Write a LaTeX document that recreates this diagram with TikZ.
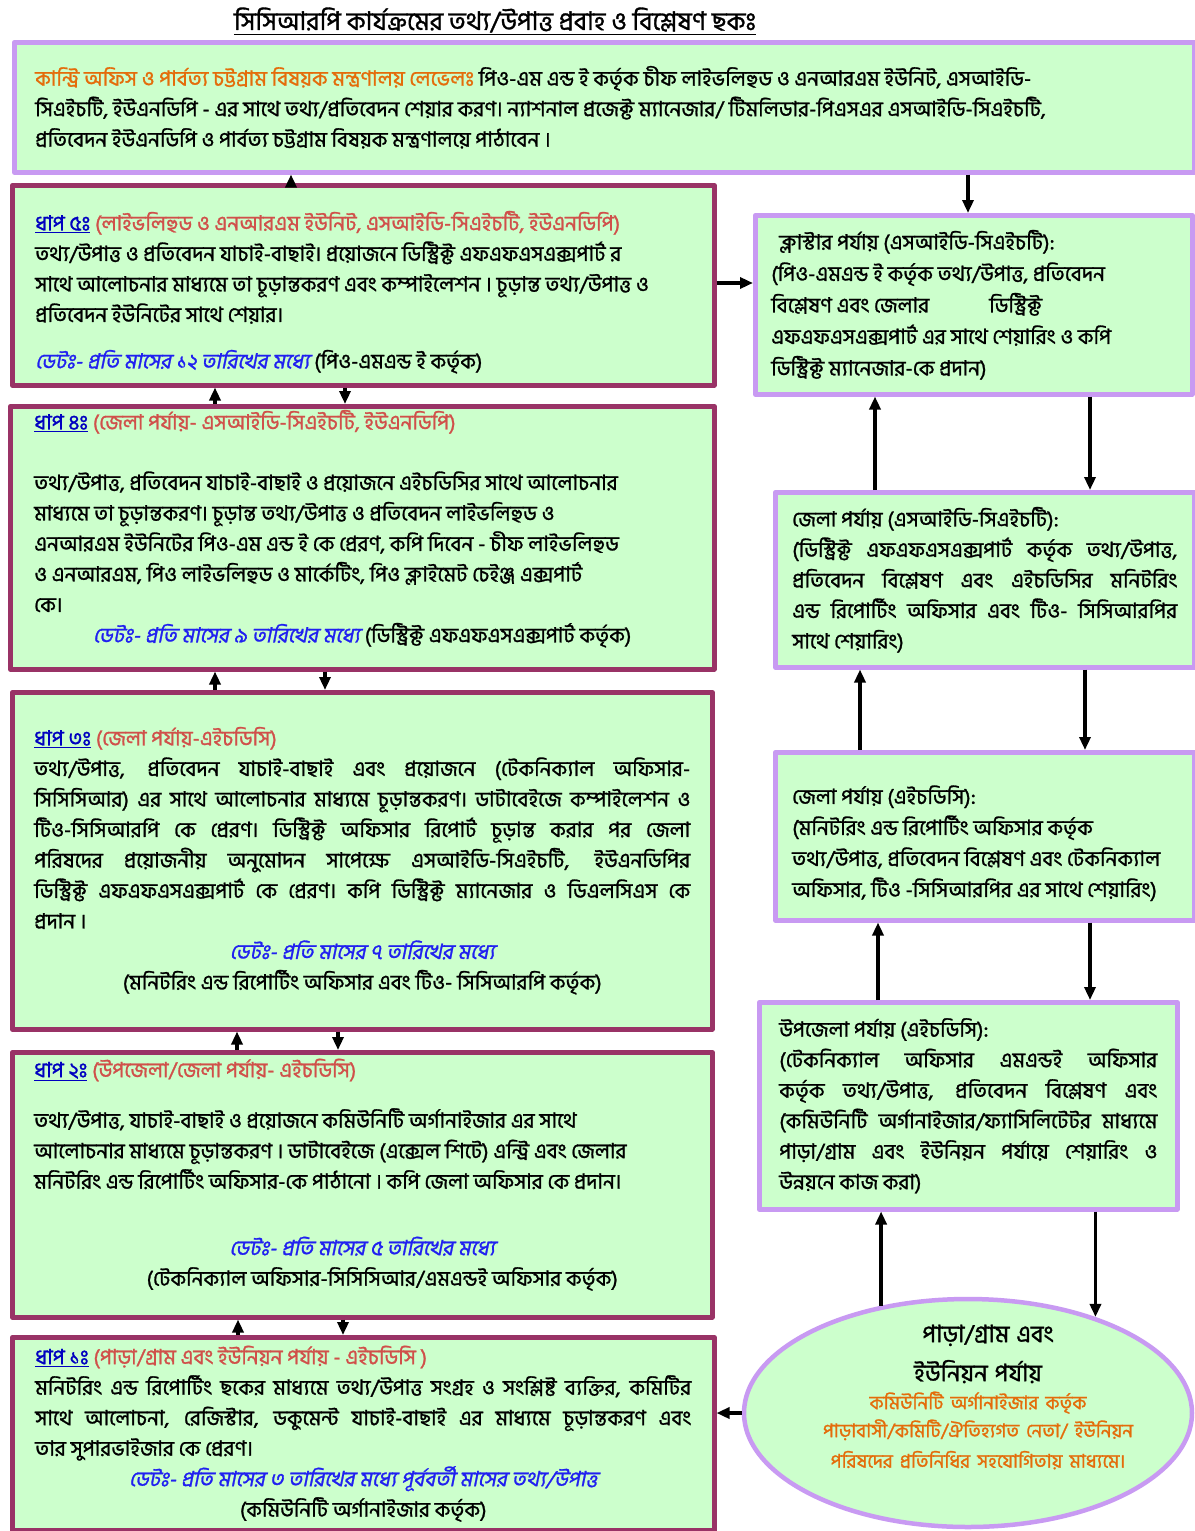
\documentclass[tikz,border=0pt]{standalone}
\usepackage{fontspec}
\setmainfont{Hind Siliguri}[Script=Bengali,FakeBold=1.2]
\newfontfamily\bnslant{Hind Siliguri}[Script=Bengali,FakeSlant=0.2,FakeBold=1.2]
\usetikzlibrary{arrows.meta,shapes.geometric}
\definecolor{boxgreen}{HTML}{CCFFCC}
\definecolor{lavender}{HTML}{C89AF2}
\definecolor{stepborder}{HTML}{993366}
\definecolor{headred}{HTML}{D0504A}
\definecolor{levelorange}{HTML}{E46C0A}
\definecolor{dateblue}{HTML}{2020F0}
\definecolor{stepblue}{HTML}{0000C0}
\newcommand{\stepno}[1]{{\color{stepblue}\underline{#1}}}
\newcommand{\steplevel}[1]{{\color{headred}#1}}
\newcommand{\deadline}[1]{{\bnslant\color{dateblue}#1}}
\newcommand{\padbelow}[1]{\par\vspace{#1}\kern0pt}
\begin{document}
\begin{tikzpicture}[x=1pt, y=-1pt, line join=round,
	every node/.style={font=\fontsize{21}{30.5}\selectfont},
	stepbox/.style={draw=stepborder, line width=4.5pt, fill=boxgreen, anchor=north west, inner sep=0pt, align=justify},
	levelbox/.style={draw=lavender, line width=4.5pt, fill=boxgreen, anchor=north west, inner sep=0pt, align=justify},
	flow/.style={-{Triangle[length=13pt,width=11pt]}, line width=3.5pt}]
	\fill[white] (0,0) rectangle (1194,1531);
	\useasboundingbox (0,0) rectangle (1194,1531);
	% title
	\node[font=\fontsize{25.5}{28}\selectfont] (title) at (495,21) {\underline{সিসিআরপি কার্যক্রমের তথ্য/উপাত্ত প্রবাহ ও বিশ্লেষণ ছকঃ}};
	% country office level
	\node[levelbox, minimum width=1180pt, minimum height=130pt, text width=1138pt] (top) at (12,40) {%
		{\color{levelorange}কান্ট্রি অফিস ও পার্বত্য চট্টগ্রাম বিষয়ক মন্ত্রণালয় লেভেলঃ} পিও-এম এন্ড ই কর্তৃক চীফ লাইভলিহুড ও এনআরএম ইউনিট, এসআইডি-\newline
		সিএইচটি, ইউএনডিপি - এর সাথে তথ্য/প্রতিবেদন শেয়ার করণ। ন্যাশনাল প্রজেক্ট ম্যানেজার/ টিমলিডার-পিএসএর এসআইডি-সিএইচটি,\newline
		প্রতিবেদন ইউএনডিপি ও পার্বত্য চট্টগ্রাম বিষয়ক মন্ত্রণালয়ে পাঠাবেন ।};
	% steps
	\node[stepbox, minimum width=702pt, minimum height=200pt, text width=656pt] (s5) at (10,183) {%
		\stepno{ধাপ ৫ঃ} \steplevel{(লাইভলিহুড ও এনআরএম ইউনিট, এসআইডি-সিএইচটি, ইউএনডিপি)}\newline
		তথ্য/উপাত্ত ও প্রতিবেদন যাচাই-বাছাই। প্রয়োজনে ডিস্ট্রিক্ট এফএফএসএক্সপার্ট র\newline
		সাথে আলোচনার মাধ্যমে তা চূড়ান্তকরণ এবং কম্পাইলেশন । চূড়ান্ত তথ্য/উপাত্ত ও\newline
		প্রতিবেদন ইউনিটের সাথে শেয়ার।\par\vspace{16pt}
		\deadline{ডেটঃ- প্রতি মাসের ১২ তারিখের মধ্যে} (পিও-এমএন্ড ই কর্তৃক)\padbelow{-14pt}};
	\node[stepbox, minimum width=704pt, minimum height=263pt, text width=656pt] (s4) at (8,404) {%
		\stepno{ধাপ ৪ঃ} \steplevel{(জেলা পর্যায়- এসআইডি-সিএইচটি, ইউএনডিপি)}\par\vspace{30pt}
		তথ্য/উপাত্ত, প্রতিবেদন যাচাই-বাছাই ও প্রয়োজনে এইচডিসির সাথে আলোচনার\newline
		মাধ্যমে তা চূড়ান্তকরণ। চূড়ান্ত তথ্য/উপাত্ত ও প্রতিবেদন লাইভলিহুড ও\newline
		এনআরএম ইউনিটের পিও-এম এন্ড ই কে প্রেরণ, কপি দিবেন - চীফ লাইভলিহুড\newline
		ও এনআরএম, পিও লাইভলিহুড ও মার্কেটিং, পিও ক্লাইমেট চেইঞ্জ এক্সপার্ট\newline
		কে।\par
		\centerline{\deadline{ডেটঃ- প্রতি মাসের ৯ তারিখের মধ্যে} (ডিস্ট্রিক্ট এফএফএসএক্সপার্ট কর্তৃক)}\padbelow{18pt}};
	\node[stepbox, minimum width=700pt, minimum height=337pt, text width=656pt] (s3) at (10,690) {%
		\stepno{ধাপ ৩ঃ} \steplevel{(জেলা পর্যায়-এইচডিসি)}\newline
		তথ্য/উপাত্ত, প্রতিবেদন যাচাই-বাছাই এবং প্রয়োজনে (টেকনিক্যাল অফিসার-\linebreak
		সিসিসিআর) এর সাথে আলোচনার মাধ্যমে চূড়ান্তকরণ। ডাটাবেইজে কম্পাইলেশন ও\linebreak
		টিও-সিসিআরপি কে প্রেরণ। ডিস্ট্রিক্ট অফিসার রিপোর্ট চূড়ান্ত করার পর জেলা\linebreak
		পরিষদের প্রয়োজনীয় অনুমোদন সাপেক্ষে এসআইডি-সিএইচটি, ইউএনডিপির\linebreak
		ডিস্ট্রিক্ট এফএফএসএক্সপার্ট কে প্রেরণ। কপি ডিস্ট্রিক্ট ম্যানেজার ও ডিএলসিএস কে\linebreak
		প্রদান ।\par
		\centerline{\deadline{ডেটঃ- প্রতি মাসের ৭ তারিখের মধ্যে}}
		\centerline{(মনিটরিং এন্ড রিপোর্টিং অফিসার এবং টিও- সিসিআরপি কর্তৃক)}};
	\node[stepbox, minimum width=700pt, minimum height=265pt, text width=656pt] (s2) at (10,1050) {%
		\stepno{ধাপ ২ঃ} \steplevel{(উপজেলা/জেলা পর্যায়- এইচডিসি)}\par\vspace{20pt}
		তথ্য/উপাত্ত, যাচাই-বাছাই ও প্রয়োজনে কমিউনিটি অর্গানাইজার এর সাথে\newline
		আলোচনার মাধ্যমে চূড়ান্তকরণ । ডাটাবেইজে (এক্সেল শিটে) এন্ট্রি এবং জেলার\newline
		মনিটরিং এন্ড রিপোর্টিং অফিসার-কে পাঠানো । কপি জেলা অফিসার কে প্রদান।\par\vspace{36pt}
		\centerline{\deadline{ডেটঃ- প্রতি মাসের ৫ তারিখের মধ্যে}}
		\centerline{\hspace{40pt}(টেকনিক্যাল অফিসার-সিসিসিআর/এমএন্ডই অফিসার কর্তৃক)}\padbelow{20pt}};
	\node[stepbox, minimum width=702pt, minimum height=193pt, text width=656pt] (s1) at (10,1335) {%
		\stepno{ধাপ ১ঃ} \steplevel{(পাড়া/গ্রাম এবং ইউনিয়ন পর্যায় - এইচডিসি )}\newline
		মনিটরিং এন্ড রিপোর্টিং ছকের মাধ্যমে তথ্য/উপাত্ত সংগ্রহ ও সংশ্লিষ্ট ব্যক্তির, কমিটির\linebreak
		সাথে আলোচনা, রেজিস্টার, ডকুমেন্ট যাচাই-বাছাই এর মাধ্যমে চূড়ান্তকরণ এবং\linebreak
		তার সুপারভাইজার কে প্রেরণ।\par
		\centerline{\deadline{ডেটঃ- প্রতি মাসের ৩ তারিখের মধ্যে পূর্ববর্তী মাসের তথ্য/উপাত্ত}}
		\centerline{(কমিউনিটি অর্গানাইজার কর্তৃক)}};
	% right column levels
	\node[levelbox, minimum width=437pt, minimum height=179pt, text width=405pt, font=\fontsize{21}{31.5}\selectfont] (cl) at (753,213) {%
		\hspace*{8pt}ক্লাস্টার পর্যায় (এসআইডি-সিএইচটি):\newline
		(পিও-এমএন্ড ই কর্তৃক তথ্য/উপাত্ত, প্রতিবেদন\newline
		বিশ্লেষণ এবং জেলার\hspace{60pt}ডিস্ট্রিক্ট\newline
		এফএফএসএক্সপার্ট এর সাথে শেয়ারিং ও কপি\newline
		ডিস্ট্রিক্ট ম্যানেজার-কে প্রদান)};
	\node[levelbox, minimum width=419pt, minimum height=175pt, text width=385pt] (dsid) at (773,490) {%
		জেলা পর্যায় (এসআইডি-সিএইচটি):\newline
		(ডিস্ট্রিক্ট এফএফএসএক্সপার্ট কর্তৃক তথ্য/উপাত্ত,\linebreak
		প্রতিবেদন বিশ্লেষণ এবং এইচডিসির মনিটরিং\linebreak
		এন্ড রিপোর্টিং অফিসার এবং টিও- সিসিআরপির\linebreak
		সাথে শেয়ারিং)};
	\node[levelbox, minimum width=419pt, minimum height=168pt, text width=385pt, font=\fontsize{21}{31}\selectfont] (dhdc) at (773,750) {%
		জেলা পর্যায় (এইচডিসি):\newline
		(মনিটরিং এন্ড রিপোর্টিং অফিসার কর্তৃক\newline
		তথ্য/উপাত্ত, প্রতিবেদন বিশ্লেষণ এবং টেকনিক্যাল\newline
		অফিসার, টিও -সিসিআরপির এর সাথে শেয়ারিং)\padbelow{-14pt}};
	\node[levelbox, minimum width=418pt, minimum height=207pt, text width=378pt] (up) at (757,1000) {%
		উপজেলা পর্যায় (এইচডিসি):\newline
		(টেকনিক্যাল অফিসার এমএন্ডই অফিসার\linebreak
		কর্তৃক তথ্য/উপাত্ত, প্রতিবেদন বিশ্লেষণ এবং\linebreak
		(কমিউনিটি অর্গানাইজার/ফ্যাসিলিটেটর মাধ্যমে\linebreak
		পাড়া/গ্রাম এবং ইউনিয়ন পর্যায়ে শেয়ারিং ও\linebreak
		উন্নয়নে কাজ করা)};
	\node[ellipse, draw=lavender, line width=4.5pt, fill=boxgreen, inner sep=0pt, minimum width=448pt, minimum height=228pt] (vill) at (968,1413) {};
	\node[text width=420pt, align=center] (villtext) at (978,1397) {%
		\fontsize{24}{39}\selectfont\hspace*{20pt}পাড়া/গ্রাম এবং\\ ইউনিয়ন পর্যায়\\
		\color{levelorange}\fontsize{19}{28}\selectfont কমিউনিটি অর্গানাইজার কর্তৃক\\
		পাড়াবাসী/কমিটি/ঐতিহ্যগত নেতা/ ইউনিয়ন\\
		পরিষদের প্রতিনিধির সহযোগিতায় মাধ্যমে।};
	% flow between steps
	\draw[flow] (s5.north -| 291,0) -- (top.south -| 291,0);
	\draw[flow] (top.south -| 968,0) -- (cl.north -| 968,0);
	\draw[flow] (s5.east |- 0,283) -- (cl.west |- 0,283);
	\foreach \lower/\upper/\xup/\xdown in {s4/s5/215/345, s3/s4/215/325, s2/s3/237/338, s1/s2/238/343}{
		\draw[flow] (\lower.north -| \xup,0) -- (\upper.south -| \xup,0);
		\draw[flow] (\upper.south -| \xdown,0) -- (\lower.north -| \xdown,0);
	}
	% flow between levels
	\foreach \upper/\lower/\xup/\xdown in {cl/dsid/875/1090, dsid/dhdc/860/1085, dhdc/up/878/1090}{
		\draw[flow] (\lower.north -| \xup,0) -- (\upper.south -| \xup,0);
		\draw[flow] (\upper.south -| \xdown,0) -- (\lower.north -| \xdown,0);
	}
	\draw[flow] (vill.129) -- (up.south -| vill.129);
	\draw[flow] (up.south -| vill.37) -- (vill.37);
	\draw[flow] (vill.west) -- (s1.east |- vill.west);
\end{tikzpicture}
\end{document}
